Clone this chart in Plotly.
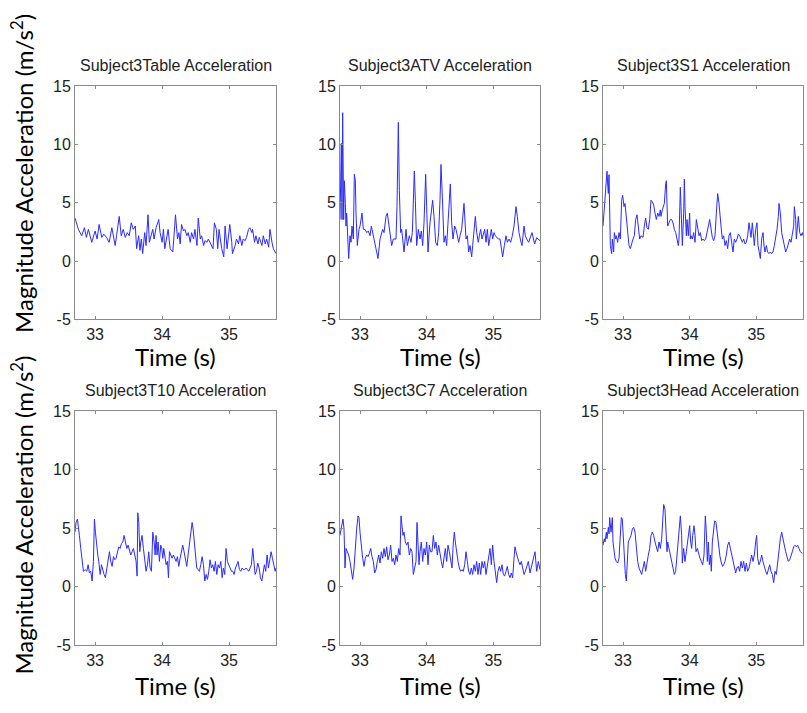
import plotly.graph_objects as go

# ---- sampled acceleration magnitude (time s, |a| m/s^2) per sensor ----
table_samples = [
    (32.70, 3.69), (32.75, 2.72), (32.80, 2.17), (32.84, 2.86), (32.87, 2.03), (32.90, 2.72),
    (32.95, 1.61), (33.00, 2.58), (33.03, 1.89), (33.06, 3.14), (33.10, 2.03), (33.13, 2.31),
    (33.17, 2.03), (33.21, 1.61), (33.25, 2.86), (33.27, 2.17), (33.30, 1.33), (33.32, 2.17),
    (33.36, 3.83), (33.39, 2.17), (33.42, 2.72), (33.45, 2.03), (33.48, 2.44), (33.51, 2.17),
    (33.54, 3.28), (33.57, 2.72), (33.60, 3.00), (33.62, 1.06), (33.65, 2.17), (33.67, 0.92),
    (33.69, 1.89), (33.71, 0.64), (33.74, 2.44), (33.76, 1.33), (33.79, 3.97), (33.81, 1.61),
    (33.84, 2.17), (33.86, 2.72), (33.88, 1.89), (33.91, 2.86), (33.95, 3.56), (33.97, 2.44),
    (34.00, 1.61), (34.02, 2.72), (34.04, 1.06), (34.07, 1.89), (34.09, 2.72), (34.12, 1.06),
    (34.16, 0.78), (34.20, 3.97), (34.23, 1.89), (34.25, 2.44), (34.27, 1.47), (34.29, 3.14),
    (34.32, 2.58), (34.34, 2.72), (34.37, 2.17), (34.39, 2.44), (34.42, 1.61), (34.44, 2.44),
    (34.47, 1.89), (34.49, 2.72), (34.52, 1.33), (34.54, 3.69), (34.57, 1.89), (34.59, 2.17),
    (34.62, 1.33), (34.64, 1.75), (34.67, 1.61), (34.69, 1.89), (34.73, 1.33), (34.76, 1.06),
    (34.78, 3.28), (34.81, 2.72), (34.83, 1.06), (34.85, 2.72), (34.87, 1.89), (34.89, 1.06),
    (34.92, 0.36), (34.94, 3.00), (34.97, 1.06), (35.01, 3.14), (35.04, 1.61), (35.05, 0.64),
    (35.09, 1.33), (35.11, 1.89), (35.14, 1.47), (35.16, 2.17), (35.19, 1.33), (35.21, 1.89),
    (35.24, 1.75), (35.26, 2.03), (35.29, 2.72), (35.31, 2.86), (35.34, 2.44), (35.35, 2.72),
    (35.38, 1.61), (35.40, 2.17), (35.43, 1.47), (35.45, 2.03), (35.49, 1.33), (35.51, 2.17),
    (35.54, 1.47), (35.56, 1.89), (35.59, 1.19), (35.61, 2.72), (35.64, 1.61), (35.66, 1.06),
    (35.70, 0.64),
]

atv_samples = [
    (32.700, 3.56), (32.720, 10.08), (32.730, 3.56), (32.740, 12.72), (32.755, 3.56), (32.765, 6.89),
    (32.780, 4.94), (32.790, 3.00), (32.800, 4.11), (32.815, 1.06), (32.830, 0.22), (32.850, 2.17),
    (32.865, 1.61), (32.880, 3.00), (32.890, 2.17), (32.900, 1.89), (32.915, 7.44), (32.930, 6.89),
    (32.940, 4.11), (32.960, 1.33), (32.985, 2.72), (33.000, 3.00), (33.030, 4.11), (33.050, 2.72),
    (33.075, 2.72), (33.100, 2.44), (33.125, 2.58), (33.150, 2.17), (33.170, 3.00), (33.190, 2.44),
    (33.210, 1.89), (33.230, 1.33), (33.270, 0.22), (33.300, 1.89), (33.340, 2.72), (33.360, 2.44),
    (33.390, 3.83), (33.410, 4.11), (33.430, 3.28), (33.450, 2.17), (33.475, 1.33), (33.500, 1.89),
    (33.540, 1.89), (33.555, 4.67), (33.575, 11.89), (33.590, 6.06), (33.610, 2.44), (33.625, 2.72),
    (33.660, 0.78), (33.690, 2.72), (33.710, 1.33), (33.740, 2.17), (33.765, 1.61), (33.785, 2.44),
    (33.815, 7.72), (33.830, 5.22), (33.850, 1.33), (33.875, 2.72), (33.900, 1.89), (33.920, 2.58),
    (33.940, 1.33), (33.960, 3.28), (33.985, 7.44), (34.000, 4.67), (34.020, 0.78), (34.050, 3.28),
    (34.090, 5.22), (34.110, 3.83), (34.135, 1.61), (34.160, 1.33), (34.180, 2.44), (34.200, 5.22),
    (34.215, 8.28), (34.235, 5.50), (34.260, 1.61), (34.280, 2.17), (34.300, 1.33), (34.320, 3.28),
    (34.355, 6.61), (34.375, 3.28), (34.395, 1.89), (34.420, 3.00), (34.440, 2.72), (34.460, 2.17),
    (34.480, 1.61), (34.500, 2.17), (34.525, 2.72), (34.560, 4.94), (34.575, 2.72), (34.590, 1.89),
    (34.610, 2.17), (34.630, 0.78), (34.650, 1.33), (34.675, 0.36), (34.690, 1.33), (34.730, 3.83),
    (34.750, 2.44), (34.775, 1.61), (34.790, 2.17), (34.810, 2.72), (34.830, 1.89), (34.850, 2.44),
    (34.870, 2.72), (34.890, 1.61), (34.910, 2.72), (34.930, 1.33), (34.950, 2.17), (34.970, 2.72),
    (34.990, 1.89), (35.010, 2.44), (35.030, 2.17), (35.050, 2.03), (35.075, 1.89), (35.100, 1.89),
    (35.140, 0.36), (35.165, 1.33), (35.190, 2.17), (35.210, 1.61), (35.235, 1.89), (35.260, 1.61),
    (35.285, 2.17), (35.310, 3.00), (35.340, 4.67), (35.360, 3.83), (35.385, 2.44), (35.415, 1.61),
    (35.430, 1.33), (35.460, 3.00), (35.480, 2.17), (35.500, 1.89), (35.530, 1.61), (35.580, 2.44),
    (35.620, 1.47), (35.650, 2.00), (35.700, 1.75),
]

s1_samples = [
    (32.70, 3.00), (32.72, 4.67), (32.73, 5.80), (32.74, 6.30), (32.76, 7.70), (32.77, 6.61),
    (32.78, 5.80), (32.79, 7.40), (32.80, 3.28), (32.81, 1.33), (32.83, 0.64), (32.84, 1.89),
    (32.86, 0.78), (32.87, 2.44), (32.89, 1.89), (32.90, 2.17), (32.92, 1.61), (32.94, 2.44),
    (32.96, 1.89), (32.98, 5.22), (32.995, 5.64), (33.015, 4.67), (33.03, 4.94), (33.05, 3.83),
    (33.07, 2.17), (33.09, 1.33), (33.11, 1.06), (33.13, 1.61), (33.15, 1.89), (33.17, 2.17),
    (33.19, 3.56), (33.21, 3.97), (33.23, 2.72), (33.25, 1.89), (33.27, 2.17), (33.30, 2.03),
    (33.32, 3.00), (33.34, 3.69), (33.36, 2.86), (33.38, 2.72), (33.40, 3.56), (33.42, 5.22),
    (33.44, 5.08), (33.46, 4.81), (33.48, 4.11), (33.50, 3.56), (33.52, 4.11), (33.54, 3.83),
    (33.56, 4.39), (33.57, 3.83), (33.59, 4.39), (33.61, 4.67), (33.62, 4.94), (33.64, 6.61),
    (33.65, 6.89), (33.67, 3.00), (33.69, 3.28), (33.71, 3.56), (33.73, 3.56), (33.75, 3.28),
    (33.77, 2.72), (33.79, 2.44), (33.81, 1.89), (33.83, 1.33), (33.84, 1.89), (33.86, 6.33),
    (33.87, 4.67), (33.88, 2.17), (33.89, 1.33), (33.91, 4.11), (33.92, 7.03), (33.93, 4.67),
    (33.95, 2.17), (33.96, 3.56), (33.98, 2.17), (34.00, 4.11), (34.01, 1.89), (34.02, 2.17),
    (34.04, 1.89), (34.06, 2.44), (34.08, 1.61), (34.10, 3.56), (34.12, 2.72), (34.14, 2.17),
    (34.16, 2.44), (34.18, 1.75), (34.20, 1.89), (34.22, 1.75), (34.24, 1.89), (34.26, 2.58),
    (34.28, 3.00), (34.30, 3.56), (34.32, 2.72), (34.34, 2.03), (34.36, 1.75), (34.38, 2.17),
    (34.40, 4.11), (34.42, 5.78), (34.44, 4.94), (34.45, 4.11), (34.47, 3.00), (34.49, 1.89),
    (34.51, 2.17), (34.53, 1.33), (34.55, 1.75), (34.57, 1.06), (34.59, 2.17), (34.61, 2.44),
    (34.63, 1.61), (34.65, 0.78), (34.67, 1.89), (34.69, 1.61), (34.71, 1.89), (34.73, 2.31),
    (34.75, 2.17), (34.77, 1.89), (34.79, 1.61), (34.81, 1.89), (34.83, 1.47), (34.85, 1.61),
    (34.87, 2.17), (34.89, 3.28), (34.905, 2.44), (34.92, 2.03), (34.94, 3.28), (34.955, 1.89),
    (34.97, 1.33), (34.99, 2.72), (35.01, 3.28), (35.025, 1.33), (35.04, 0.78), (35.06, 0.22),
    (35.08, 1.89), (35.10, 2.44), (35.115, 1.33), (35.13, 0.78), (35.15, 1.33), (35.17, 0.78),
    (35.19, 0.64), (35.21, 0.78), (35.23, 0.64), (35.25, 0.78), (35.27, 1.33), (35.29, 1.89),
    (35.31, 2.72), (35.33, 3.83), (35.34, 4.94), (35.36, 4.11), (35.38, 2.44), (35.40, 1.89),
    (35.42, 1.33), (35.44, 0.78), (35.46, 1.06), (35.48, 1.61), (35.50, 1.89), (35.52, 1.61),
    (35.54, 2.17), (35.56, 3.00), (35.57, 4.67), (35.59, 3.56), (35.60, 1.89), (35.62, 3.28),
    (35.63, 3.83), (35.65, 2.44), (35.67, 2.17), (35.69, 2.44), (35.70, 2.17),
]

t10_samples = [
    (32.700, 4.67), (32.716, 5.50), (32.736, 5.78), (32.751, 5.22), (32.766, 4.39), (32.786, 3.28),
    (32.806, 2.17), (32.826, 1.33), (32.851, 1.47), (32.876, 1.33), (32.896, 1.89), (32.915, 1.19),
    (32.935, 1.33), (32.955, 0.50), (32.975, 2.17), (32.990, 5.78), (33.005, 4.67), (33.020, 3.56),
    (33.040, 2.72), (33.055, 2.17), (33.075, 1.06), (33.095, 1.89), (33.114, 1.33), (33.134, 1.06),
    (33.154, 0.78), (33.174, 1.61), (33.194, 2.17), (33.214, 3.00), (33.234, 2.17), (33.254, 1.75),
    (33.274, 2.58), (33.294, 2.31), (33.313, 2.44), (33.333, 3.00), (33.353, 3.42), (33.373, 3.28),
    (33.393, 3.69), (33.413, 3.83), (33.433, 4.39), (33.453, 3.83), (33.473, 3.28), (33.493, 3.56),
    (33.512, 3.00), (33.532, 2.72), (33.552, 3.00), (33.572, 3.28), (33.592, 2.72), (33.612, 2.17),
    (33.627, 0.92), (33.637, 6.33), (33.652, 5.50), (33.667, 3.00), (33.682, 3.83), (33.701, 4.39),
    (33.721, 3.28), (33.741, 2.17), (33.761, 1.33), (33.781, 1.89), (33.801, 3.00), (33.821, 1.61),
    (33.841, 1.33), (33.861, 4.67), (33.881, 3.83), (33.896, 2.72), (33.910, 4.39), (33.925, 2.72),
    (33.940, 3.83), (33.960, 2.17), (33.980, 3.56), (33.995, 3.28), (34.010, 2.44), (34.025, 3.28),
    (34.040, 2.72), (34.060, 1.89), (34.080, 2.17), (34.095, 0.78), (34.110, 3.00), (34.129, 2.72),
    (34.149, 2.44), (34.169, 2.72), (34.189, 2.44), (34.209, 2.17), (34.229, 2.58), (34.249, 1.75),
    (34.269, 2.44), (34.289, 3.00), (34.308, 3.56), (34.328, 3.00), (34.348, 2.44), (34.368, 1.75),
    (34.388, 2.72), (34.408, 3.56), (34.428, 4.39), (34.448, 5.50), (34.463, 4.94), (34.478, 3.83),
    (34.498, 2.44), (34.517, 1.61), (34.537, 1.47), (34.557, 1.33), (34.577, 1.89), (34.597, 2.58),
    (34.617, 1.89), (34.637, 0.50), (34.657, 1.06), (34.677, 0.64), (34.697, 1.33), (34.716, 2.31),
    (34.736, 1.61), (34.756, 1.89), (34.776, 1.33), (34.796, 2.17), (34.816, 1.06), (34.836, 1.89),
    (34.856, 1.61), (34.876, 2.17), (34.896, 0.78), (34.915, 1.61), (34.935, 1.06), (34.955, 3.28),
    (34.975, 2.17), (34.995, 1.89), (35.015, 1.61), (35.035, 1.33), (35.055, 1.33), (35.075, 1.06),
    (35.095, 1.61), (35.114, 1.89), (35.134, 2.17), (35.154, 1.47), (35.174, 1.33), (35.194, 1.61),
    (35.214, 1.47), (35.234, 1.47), (35.254, 1.61), (35.274, 1.47), (35.294, 1.33), (35.313, 1.61),
    (35.333, 1.89), (35.353, 3.28), (35.368, 2.17), (35.388, 1.06), (35.408, 1.33), (35.428, 2.03),
    (35.448, 1.61), (35.468, 0.78), (35.488, 0.50), (35.507, 1.33), (35.527, 1.89), (35.547, 1.33),
    (35.567, 2.72), (35.587, 1.61), (35.607, 2.17), (35.627, 3.00), (35.647, 2.44), (35.667, 1.89),
    (35.687, 1.33), (35.700, 1.61),
]

c7_samples = [
    (32.700, 4.39), (32.715, 5.08), (32.730, 5.36), (32.745, 5.78), (32.760, 4.94), (32.775, 1.61),
    (32.790, 3.28), (32.810, 3.00), (32.830, 2.72), (32.850, 2.17), (32.870, 1.33), (32.890, 0.64),
    (32.910, 1.61), (32.930, 3.83), (32.950, 4.94), (32.970, 6.06), (32.985, 5.92), (33.000, 4.67),
    (33.020, 3.28), (33.040, 2.44), (33.060, 1.75), (33.080, 2.44), (33.100, 2.72), (33.120, 2.58),
    (33.140, 2.86), (33.160, 3.28), (33.180, 2.58), (33.200, 2.17), (33.220, 1.19), (33.240, 1.47),
    (33.260, 2.17), (33.280, 2.72), (33.300, 2.03), (33.320, 3.00), (33.340, 2.44), (33.360, 3.28),
    (33.380, 2.58), (33.400, 3.42), (33.420, 2.31), (33.440, 2.72), (33.460, 3.56), (33.480, 2.17),
    (33.500, 2.44), (33.520, 1.89), (33.540, 2.72), (33.560, 2.17), (33.580, 3.28), (33.600, 2.72),
    (33.615, 6.06), (33.630, 4.94), (33.645, 4.39), (33.660, 4.67), (33.680, 3.83), (33.700, 3.56),
    (33.720, 3.83), (33.740, 2.72), (33.760, 3.28), (33.780, 3.00), (33.800, 1.06), (33.820, 1.61),
    (33.840, 2.17), (33.855, 5.50), (33.870, 4.11), (33.885, 1.89), (33.900, 3.00), (33.920, 3.83),
    (33.940, 2.17), (33.960, 3.28), (33.980, 2.72), (34.000, 3.83), (34.020, 1.89), (34.040, 3.56),
    (34.060, 3.00), (34.080, 3.00), (34.100, 4.39), (34.120, 3.28), (34.140, 3.83), (34.160, 2.72),
    (34.180, 3.56), (34.200, 2.72), (34.220, 2.17), (34.240, 1.61), (34.260, 2.72), (34.280, 3.28),
    (34.300, 2.17), (34.320, 3.56), (34.340, 3.00), (34.360, 2.17), (34.380, 1.61), (34.400, 3.83),
    (34.415, 4.67), (34.430, 3.83), (34.450, 2.72), (34.470, 2.17), (34.490, 1.61), (34.510, 1.33),
    (34.530, 1.47), (34.550, 1.33), (34.570, 1.89), (34.590, 3.00), (34.610, 2.17), (34.630, 1.33),
    (34.650, 1.06), (34.670, 1.61), (34.690, 1.06), (34.710, 1.89), (34.730, 1.33), (34.750, 2.17),
    (34.770, 1.06), (34.790, 2.03), (34.810, 1.06), (34.830, 2.17), (34.850, 1.61), (34.870, 2.17),
    (34.890, 1.06), (34.910, 1.89), (34.930, 2.44), (34.950, 3.28), (34.970, 1.89), (34.990, 3.56),
    (35.010, 2.17), (35.030, 1.06), (35.050, 0.36), (35.070, 1.33), (35.090, 1.75), (35.110, 1.33),
    (35.130, 1.89), (35.150, 1.06), (35.170, 0.92), (35.190, 1.33), (35.210, 1.75), (35.230, 1.06),
    (35.250, 0.78), (35.270, 1.19), (35.290, 0.78), (35.310, 2.44), (35.325, 3.42), (35.340, 3.00),
    (35.360, 2.44), (35.380, 2.17), (35.400, 1.89), (35.420, 2.17), (35.440, 1.61), (35.460, 1.06),
    (35.480, 1.33), (35.500, 1.75), (35.525, 2.17), (35.550, 1.19), (35.600, 2.31), (35.625, 3.00),
    (35.650, 1.33), (35.675, 2.17), (35.700, 1.47),
]

head_samples = [
    (32.70, 3.56), (32.72, 4.11), (32.73, 3.83), (32.75, 4.67), (32.76, 4.11), (32.78, 5.08),
    (32.79, 4.53), (32.80, 5.92), (32.82, 4.67), (32.84, 5.92), (32.85, 3.83), (32.87, 3.00),
    (32.88, 2.44), (32.90, 2.17), (32.92, 2.03), (32.94, 2.44), (32.96, 4.94), (32.975, 5.92),
    (32.99, 5.78), (33.005, 3.83), (33.02, 2.17), (33.035, 1.06), (33.05, 0.50), (33.065, 2.17),
    (33.08, 3.83), (33.10, 4.11), (33.12, 4.39), (33.14, 4.94), (33.16, 5.08), (33.18, 4.67),
    (33.20, 3.28), (33.22, 2.17), (33.24, 1.61), (33.26, 1.33), (33.28, 1.06), (33.30, 1.61),
    (33.32, 2.17), (33.34, 1.33), (33.36, 2.17), (33.38, 2.72), (33.40, 3.28), (33.42, 4.39),
    (33.44, 4.67), (33.46, 4.39), (33.48, 3.83), (33.50, 3.28), (33.52, 3.00), (33.54, 3.83),
    (33.56, 3.28), (33.58, 4.11), (33.60, 6.06), (33.61, 7.03), (33.63, 6.61), (33.64, 5.22),
    (33.66, 3.00), (33.67, 3.83), (33.69, 3.28), (33.71, 2.72), (33.73, 2.17), (33.75, 1.61),
    (33.77, 1.06), (33.79, 1.33), (33.81, 2.72), (33.83, 3.83), (33.85, 4.94), (33.86, 6.06),
    (33.88, 4.39), (33.89, 2.03), (33.91, 3.28), (33.93, 2.17), (33.95, 3.00), (33.97, 4.11),
    (33.99, 4.94), (34.00, 5.22), (34.015, 3.83), (34.03, 3.28), (34.045, 4.39), (34.065, 5.22),
    (34.08, 4.39), (34.095, 3.00), (34.115, 3.28), (34.135, 2.72), (34.155, 2.44), (34.175, 2.17),
    (34.195, 1.89), (34.215, 2.72), (34.235, 6.06), (34.25, 4.67), (34.265, 2.17), (34.28, 3.83),
    (34.295, 1.89), (34.31, 2.72), (34.325, 1.33), (34.34, 3.83), (34.355, 4.67), (34.375, 5.64),
    (34.395, 5.50), (34.415, 4.39), (34.435, 3.28), (34.455, 2.58), (34.475, 2.03), (34.495, 1.75),
    (34.51, 1.89), (34.53, 2.17), (34.55, 2.72), (34.57, 3.56), (34.59, 3.83), (34.61, 3.28),
    (34.63, 2.72), (34.65, 2.17), (34.67, 1.61), (34.69, 1.19), (34.71, 1.61), (34.73, 1.75),
    (34.75, 1.33), (34.77, 2.17), (34.79, 1.61), (34.81, 2.17), (34.83, 1.33), (34.85, 2.03),
    (34.87, 1.33), (34.89, 1.61), (34.91, 2.17), (34.93, 2.72), (34.95, 2.17), (34.97, 2.72),
    (34.99, 3.83), (35.005, 4.39), (35.02, 2.44), (35.04, 1.89), (35.06, 2.17), (35.08, 2.72),
    (35.10, 2.17), (35.12, 1.61), (35.14, 1.33), (35.16, 1.06), (35.18, 1.61), (35.20, 1.89),
    (35.22, 1.33), (35.24, 1.06), (35.26, 0.36), (35.28, 1.33), (35.30, 1.06), (35.32, 2.17),
    (35.34, 3.00), (35.36, 4.11), (35.38, 4.67), (35.40, 4.11), (35.42, 3.28), (35.44, 3.00),
    (35.46, 2.58), (35.48, 2.17), (35.50, 2.31), (35.52, 2.58), (35.54, 3.00), (35.56, 3.42),
    (35.58, 3.56), (35.60, 3.42), (35.62, 3.56), (35.64, 3.28), (35.66, 3.00), (35.69, 2.86),
]

panel_titles = [
    "Subject3Table Acceleration", "Subject3ATV Acceleration", "Subject3S1 Acceleration",
    "Subject3T10 Acceleration", "Subject3C7 Acceleration", "Subject3Head Acceleration",
]
panel_series = [table_samples, atv_samples, s1_samples, t10_samples, c7_samples, head_samples]

x_tick_vals = [33, 34, 35]
x_tick_text = ["33", "34", "35"]
y_tick_vals = [-5, 0, 5, 10, 15]
y_tick_text = ["-5", "0", "5", "10", "15"]
x_range = [32.7, 35.7]
y_range = [-5, 15]

x_label = "Time (s)"
y_label = "Magnitude Acceleration (m/s<sup>2</sup>)"

# ---- page geometry (pixels) ----
W, H = 807, 713
col_px = [(75, 276), (340, 540), (603, 803)]
row_px = [(80, 319), (413, 653)]
title_y_px = [59, 392]
xlabel_y_px = [357, 694]
ylabel_y_px = [170, 520]
ylabel_x_px = 22


def px_x(x):
    return x / W


def px_y(y):
    return 1 - y / H


LINE_BLUE = "#2b2bff"
FRAME = "#8a8a8a"
TEXT = "#222222"
SANS = "Liberation Sans, Arial, sans-serif"
LABEL_FONT = "Lato, sans-serif"

fig = go.Figure()
annotations = []

for i, (title, samples) in enumerate(zip(panel_titles, panel_series)):
    r, c = divmod(i, 3)
    n = i + 1
    xa = "x" if n == 1 else f"x{n}"
    ya = "y" if n == 1 else f"y{n}"
    t = [s[0] for s in samples]
    a = [s[1] for s in samples]
    fig.add_trace(go.Scatter(
        x=t, y=a, mode="lines", xaxis=xa, yaxis=ya,
        line=dict(color=LINE_BLUE, width=1), showlegend=False, hoverinfo="skip",
    ))

    x0, x1 = col_px[c]
    y0, y1 = row_px[r]
    axis_common = dict(
        showline=True, linecolor=FRAME, linewidth=1, mirror="ticks",
        ticks="inside", ticklen=3, tickcolor=FRAME, tickwidth=1,
        showgrid=False, zeroline=False,
        tickfont=dict(family=SANS, size=16, color=TEXT),
    )
    fig.update_layout(**{
        ("xaxis" if n == 1 else f"xaxis{n}"): dict(
            domain=[px_x(x0), px_x(x1)], anchor=ya, range=x_range,
            tickmode="array", tickvals=x_tick_vals, ticktext=x_tick_text,
            **axis_common,
        ),
        ("yaxis" if n == 1 else f"yaxis{n}"): dict(
            domain=[px_y(y1), px_y(y0)], anchor=xa, range=y_range,
            tickmode="array", tickvals=y_tick_vals, ticktext=y_tick_text,
            **axis_common,
        ),
    })

    cx = (x0 + x1) / 2
    annotations.append(dict(
        text=title, x=px_x(cx), y=px_y(title_y_px[r]), xref="paper", yref="paper",
        xanchor="center", yanchor="middle", showarrow=False,
        font=dict(family=SANS, size=16, color=TEXT),
    ))
    annotations.append(dict(
        text=x_label, x=px_x(cx), y=px_y(xlabel_y_px[r]), xref="paper", yref="paper",
        xanchor="center", yanchor="middle", showarrow=False,
        font=dict(family=LABEL_FONT, size=24, color="#000000"),
    ))

for r in range(2):
    annotations.append(dict(
        text=y_label, x=px_x(ylabel_x_px), y=px_y(ylabel_y_px[r]), xref="paper", yref="paper",
        xanchor="center", yanchor="middle", showarrow=False, textangle=-90,
        font=dict(family=LABEL_FONT, size=24, color="#000000"),
    ))

fig.update_layout(
    width=W, height=H, margin=dict(l=0, r=0, t=0, b=0),
    paper_bgcolor="white", plot_bgcolor="white",
    showlegend=False, annotations=annotations,
)

fig.write_html("out.html")
